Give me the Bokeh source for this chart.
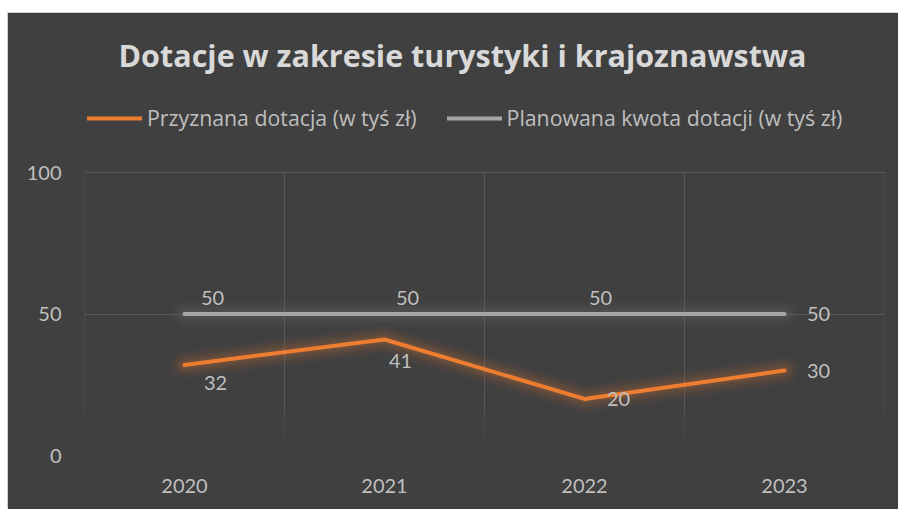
from bokeh.plotting import figure
from bokeh.models import (FixedTicker, Label, Legend, LegendItem, Range1d, ColumnDataSource)
from bokeh.core.properties import value
from bokeh.embed import file_html
from bokeh.resources import INLINE

# ---- data ----
years = ["2020", "2021", "2022", "2023"]
granted = [32, 41, 20, 30]          # Przyznana dotacja (w tyś zł)
planned = [50, 50, 50, 50]          # Planowana kwota dotacji (w tyś zł)
y_ticks = [0, 50, 100]
title_text = "Dotacje w zakresie turystyki i krajoznawstwa"
series_names = ["Przyznana dotacja (w tyś zł)", "Planowana kwota dotacji (w tyś zł)"]

# ---- style ----
BG = "#404040"
ORANGE = "#ed7d31"
GREY = "#a5a5a5"
TXT = "#bfbfbf"
GRID = "#575757"
FONT = "Lato"
FONT2 = "Open Sans"

W, H = 890, 496
FRAME_LEFT, FRAME_RIGHT_PAD, FRAME_BOTTOM_PAD = 76, 14, 54
PLOT_TOP = 159                     # pixel row of the top value inside the frame
frame_h = H - FRAME_BOTTOM_PAD

xs = list(range(1, len(years) + 1))
bounds = [x - 0.5 for x in xs] + [xs[-1] + 0.5]
ymax = y_ticks[-1]
y_end = ymax * frame_h / (frame_h - PLOT_TOP)

p = figure(width=W, height=H, output_backend="svg", toolbar_location=None,
           x_range=Range1d(bounds[0], bounds[-1]), y_range=Range1d(y_ticks[0], y_end),
           min_border_left=FRAME_LEFT, min_border_right=FRAME_RIGHT_PAD, min_border_top=0,
           min_border_bottom=FRAME_BOTTOM_PAD)
p.margin = (13, 0, 0, 8)
p.styles = {"background-color": BG, "box-shadow": "-1px -1px 0 #d0d0d0"}
p.background_fill_color = BG
p.border_fill_color = None
p.outline_line_color = None

# axes
for ax in (p.xaxis[0], p.yaxis[0]):
    ax.axis_line_color = None
    ax.major_tick_line_color = None
    ax.minor_tick_line_color = None
    ax.major_label_text_color = TXT
    ax.major_label_text_font = FONT
    ax.major_label_text_font_size = "20px"
p.xaxis.ticker = FixedTicker(ticks=xs)
p.xaxis.major_label_overrides = {x: y for x, y in zip(xs, years)}
p.xaxis.major_label_standoff = 17
p.yaxis.ticker = FixedTicker(ticks=y_ticks)
p.yaxis.major_label_standoff = 17

# grid
p.ygrid.ticker = FixedTicker(ticks=y_ticks[1:])
p.ygrid.grid_line_color = GRID
p.ygrid.grid_line_width = 1
p.xgrid.grid_line_color = None
p.segment(x0=bounds, x1=bounds, y0=[ymax] * len(bounds), y1=[15] * len(bounds),
          line_color=GRID, line_width=1)
p.segment(x0=bounds, x1=bounds, y0=[15] * len(bounds), y1=[6] * len(bounds),
          line_color=GRID, line_width=1, line_alpha=0.45)

# data label offsets (pixel styling)
g_dx = [31, 16, 34, 34]
g_dy = [18, 22, 0, 0]
pl_dx = [28, 23, 16, 34]
pl_dy = [-16, -16, -16, 0]

src = ColumnDataSource(dict(x=xs, g=granted, pl=planned,
                            gl=[str(v) for v in granted], pll=[str(v) for v in planned],
                            gdx=g_dx, gdy=g_dy, pdx=pl_dx, pdy=pl_dy))

# glow
for w, a in ((28, 0.045), (21, 0.06), (15, 0.08), (9, 0.1)):
    p.line("x", "pl", source=src, line_color="#7a7a7a", line_width=w, line_alpha=a, line_cap="round")
    p.line("x", "g", source=src, line_color=ORANGE, line_width=w, line_alpha=a, line_cap="round")

r_pl = p.line("x", "pl", source=src, line_color=GREY, line_width=4, line_cap="round", line_join="round")
r_g = p.line("x", "g", source=src, line_color=ORANGE, line_width=4, line_cap="round", line_join="round")

# data labels
p.text("x", "g", text="gl", source=src, x_offset="gdx", y_offset="gdy",
       text_align="center", text_baseline="middle", text_color=TXT,
       text_font=value(FONT), text_font_size="20px")
p.text("x", "pl", text="pll", source=src, x_offset="pdx", y_offset="pdy",
       text_align="center", text_baseline="middle", text_color=TXT,
       text_font=value(FONT), text_font_size="20px")

# title
p.add_layout(Label(x=378, y=frame_h - 41, x_units="screen", y_units="screen", text=title_text,
                   text_align="center", text_baseline="middle", text_color="#d9d9d9",
                   text_font=FONT2, text_font_size="30.5px", text_font_style="bold"))

# legend
legend = Legend(items=[LegendItem(label=series_names[0], renderers=[r_g]),
                       LegendItem(label=series_names[1], renderers=[r_pl])],
                orientation="horizontal", location=(3, frame_h - 108 - 11),
                glyph_width=55, glyph_height=22, label_height=22, label_standoff=5,
                spacing=30, padding=0, margin=0,
                label_text_font=FONT2, label_text_font_size="21.3px", label_text_color=TXT,
                background_fill_alpha=0, border_line_alpha=0)
p.add_layout(legend, "center")

open("out.html", "w").write(file_html(p, INLINE))
